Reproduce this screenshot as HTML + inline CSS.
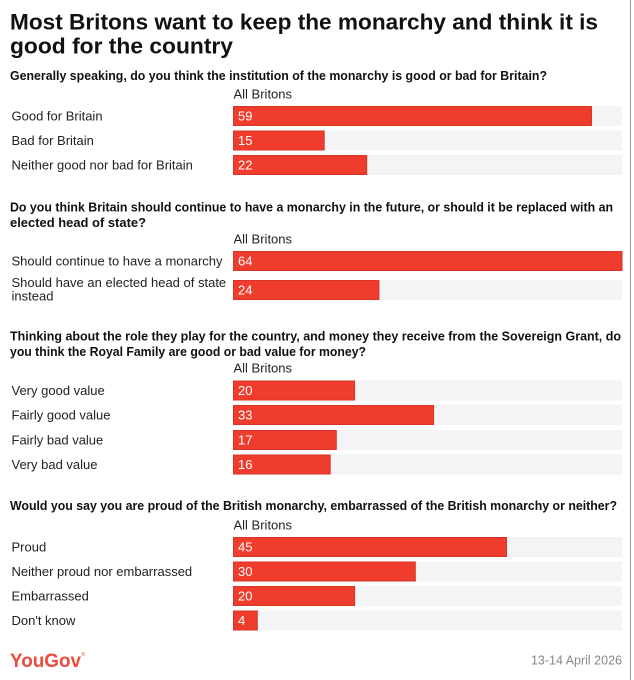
<!DOCTYPE html>
<html>
<head>
<meta charset="utf-8">
<style>
html,body{margin:0;padding:0;background:#fff;}
svg{display:block;}
text{font-family:"Liberation Sans",Arial,sans-serif;}
.t{font-weight:bold;font-size:22px;fill:#111;}
.q{font-weight:bold;font-size:13px;fill:#111;}
.l{font-size:13px;fill:#222;}
.n{font-size:13px;fill:#fff;}
.h{font-size:13px;fill:#222;}
.bar{fill:#f03c2d;stroke:#d6352a;stroke-width:1;}
.trk{fill:#f4f3f6;}
</style>
</head>
<body>
<svg width="634" height="680" viewBox="0 0 634 680" xmlns="http://www.w3.org/2000/svg">
<rect x="0" y="0" width="634" height="680" fill="#fff"/>
<line x1="630.5" y1="0" x2="630.5" y2="680" stroke="#9a9a9a" stroke-width="1"/>

<text class="t" x="10" y="29.5" textLength="588" lengthAdjust="spacingAndGlyphs">Most Britons want to keep the monarchy and think it is</text>
<text class="t" x="10" y="53.5" textLength="223" lengthAdjust="spacingAndGlyphs">good for the country</text>

<!-- Section 1 -->
<text class="q" x="10" y="80" textLength="537" lengthAdjust="spacingAndGlyphs">Generally speaking, do you think the institution of the monarchy is good or bad for Britain?</text>
<text class="h" x="233.5" y="98.5">All Britons</text>

<rect class="trk" x="233" y="106" width="389" height="20"/>
<rect class="bar" x="233.5" y="106.5" width="358" height="19"/>
<text class="n" x="238" y="120.7">59</text>
<text class="l" x="11.5" y="120.7">Good for Britain</text>

<rect class="trk" x="233" y="130.5" width="389" height="20"/>
<rect class="bar" x="233.5" y="131" width="90.7" height="19"/>
<text class="n" x="238" y="145.2">15</text>
<text class="l" x="11.5" y="145.2">Bad for Britain</text>

<rect class="trk" x="233" y="155" width="389" height="20"/>
<rect class="bar" x="233.5" y="155.5" width="133.2" height="19"/>
<text class="n" x="238" y="169.7">22</text>
<text class="l" x="11.5" y="169.7">Neither good nor bad for Britain</text>

<!-- Section 2 -->
<text class="q" x="10" y="211.5" textLength="603" lengthAdjust="spacingAndGlyphs">Do you think Britain should continue to have a monarchy in the future, or should it be replaced with an</text>
<text class="q" x="10" y="227" textLength="136" lengthAdjust="spacingAndGlyphs">elected head of state?</text>
<text class="h" x="233.5" y="243.5">All Britons</text>

<rect class="trk" x="233" y="251" width="389" height="20"/>
<rect class="bar" x="233.5" y="251.5" width="388.5" height="19"/>
<text class="n" x="238" y="265.7">64</text>
<text class="l" x="11.5" y="265.7">Should continue to have a monarchy</text>

<rect class="trk" x="233" y="280" width="389" height="20"/>
<rect class="bar" x="233.5" y="280.5" width="145.4" height="19"/>
<text class="n" x="238" y="294.7">24</text>
<text class="l" x="11.5" y="287">Should have an elected head of state</text>
<text class="l" x="11.5" y="300.5">instead</text>

<!-- Section 3 -->
<text class="q" x="10" y="340.5" textLength="611" lengthAdjust="spacingAndGlyphs">Thinking about the role they play for the country, and money they receive from the Sovereign Grant, do</text>
<text class="q" x="10" y="356" textLength="356" lengthAdjust="spacingAndGlyphs">you think the Royal Family are good or bad value for money?</text>
<text class="h" x="233.5" y="372.5">All Britons</text>

<rect class="trk" x="233" y="380.5" width="389" height="20"/>
<rect class="bar" x="233.5" y="381" width="121.1" height="19"/>
<text class="n" x="238" y="395.2">20</text>
<text class="l" x="11.5" y="395.2">Very good value</text>

<rect class="trk" x="233" y="405" width="389" height="20"/>
<rect class="bar" x="233.5" y="405.5" width="200.1" height="19"/>
<text class="n" x="238" y="419.7">33</text>
<text class="l" x="11.5" y="419.7">Fairly good value</text>

<rect class="trk" x="233" y="430" width="389" height="20"/>
<rect class="bar" x="233.5" y="430.5" width="102.8" height="19"/>
<text class="n" x="238" y="444.7">17</text>
<text class="l" x="11.5" y="444.7">Fairly bad value</text>

<rect class="trk" x="233" y="454.5" width="389" height="20"/>
<rect class="bar" x="233.5" y="455" width="96.7" height="19"/>
<text class="n" x="238" y="469.2">16</text>
<text class="l" x="11.5" y="469.2">Very bad value</text>

<!-- Section 4 -->
<text class="q" x="10" y="510" textLength="607" lengthAdjust="spacingAndGlyphs">Would you say you are proud of the British monarchy, embarrassed of the British monarchy or neither?</text>
<text class="h" x="233.5" y="529.5">All Britons</text>

<rect class="trk" x="233" y="537" width="389" height="20"/>
<rect class="bar" x="233.5" y="537.5" width="273" height="19"/>
<text class="n" x="238" y="551.7">45</text>
<text class="l" x="11.5" y="551.7">Proud</text>

<rect class="trk" x="233" y="561.5" width="389" height="20"/>
<rect class="bar" x="233.5" y="562" width="181.8" height="19"/>
<text class="n" x="238" y="576.2">30</text>
<text class="l" x="11.5" y="576.2">Neither proud nor embarrassed</text>

<rect class="trk" x="233" y="586" width="389" height="20"/>
<rect class="bar" x="233.5" y="586.5" width="121.1" height="19"/>
<text class="n" x="238" y="600.7">20</text>
<text class="l" x="11.5" y="600.7">Embarrassed</text>

<rect class="trk" x="233" y="610.5" width="389" height="20"/>
<rect class="bar" x="233.5" y="611" width="23.8" height="19"/>
<text class="n" x="238" y="625.2">4</text>
<text class="l" x="11.5" y="625.2">Don't know</text>

<!-- Footer -->
<text x="10" y="667" font-weight="bold" font-size="19" fill="#ec4b40" textLength="71" lengthAdjust="spacingAndGlyphs">YouGov</text>
<text x="81.5" y="656" font-size="5" fill="#ec4b40">®</text>
<text x="622" y="664.5" font-size="12.5" fill="#888" text-anchor="end">13-14 April 2026</text>
</svg>
</body>
</html>
